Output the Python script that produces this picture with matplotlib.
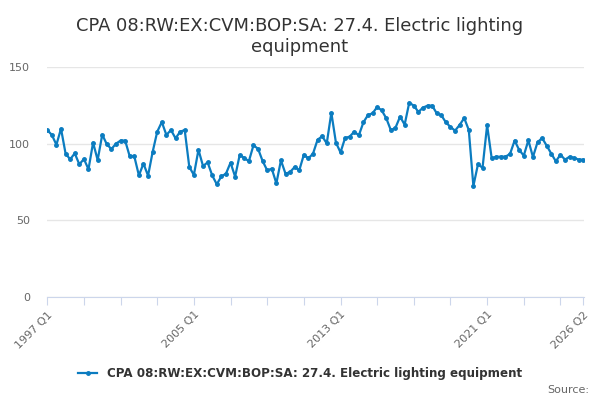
import matplotlib
matplotlib.use("Agg")
import matplotlib.pyplot as plt

# quarterly values 1997 Q1 .. 2026 Q2
werte = [
    108.9, 105.7, 99.3, 109.8, 93.5, 89.8, 93.7, 86.5, 90.0, 83.3,
    100.7, 89.3, 105.9, 99.6, 96.5, 100.0, 102.0, 102.0, 91.7, 91.7,
    79.3, 87.0, 79.1, 94.6, 107.8, 114.1, 105.7, 108.9, 103.5, 107.8,
    108.9, 84.8, 79.6, 96.0, 85.4, 87.8, 79.3, 73.5, 78.7, 80.4,
    87.6, 78.5, 92.6, 90.7, 88.5, 98.9, 96.7, 88.7, 82.6, 83.7,
    74.1, 89.1, 80.4, 81.5, 84.8, 82.6, 92.8, 90.4, 93.5, 102.6,
    104.8, 100.2, 120.2, 100.7, 94.3, 103.7, 104.6, 107.8, 105.4, 113.9,
    118.7, 119.8, 123.9, 121.7, 116.5, 108.7, 110.4, 117.6, 112.4, 126.7,
    124.8, 120.7, 123.5, 124.8, 124.8, 119.8, 118.5, 113.9, 110.9, 108.5,
    112.2, 116.7, 108.9, 72.4, 86.5, 84.3, 112.0, 90.4, 91.5, 91.5,
    91.5, 93.3, 102.0, 95.9, 92.2, 102.2, 91.3, 100.9, 103.7, 98.7,
    93.5, 88.5, 92.8, 89.6, 91.5, 90.7, 89.6, 89.6,
]
quartale = list(range(len(werte)))
tick_pos = list(range(0, 113, 8)) + [117]
tick_labels = {0: "1997 Q1", 32: "2005 Q1", 64: "2013 Q1", 96: "2021 Q1", 117: "2026 Q2"}
y_ticks = [0, 50, 100, 150]

titel = "CPA 08:RW:EX:CVM:BOP:SA: 27.4. Electric lighting equipment"
farbe = "#0b7cc0"

plt.rcParams["font.family"] = ["DejaVu Sans"]

fig = plt.figure(figsize=(6, 4), dpi=100)
ax = fig.add_axes([0.078, 0.2575, 0.895, 0.575])

ax.plot(quartale, werte, color=farbe, linewidth=1.6, marker="o",
        markersize=2.5, label=titel, zorder=3)

ax.set_xlim(-0.1, 117.1)
ax.set_ylim(0, 150)
ax.set_yticks(y_ticks)
ax.yaxis.grid(True, color="#e6e6e6", linewidth=1)
ax.set_axisbelow(True)
ax.tick_params(axis="y", length=0, labelsize=8, labelcolor="#666666", pad=12)

ax.set_xticks(tick_pos)
ax.set_xticklabels([tick_labels.get(p, "") for p in tick_pos],
                   rotation=45, ha="right", rotation_mode="anchor")
ax.tick_params(axis="x", length=6, color="#ccd6eb", labelsize=8,
               labelcolor="#666666", pad=3)

for s in ["top", "right", "left"]:
    ax.spines[s].set_visible(False)
ax.spines["bottom"].set_color("#ccd6eb")

fig.text(0.5, 0.957, "CPA 08:RW:EX:CVM:BOP:SA: 27.4. Electric lighting\nequipment",
         ha="center", va="top", fontsize=12.9, color="#333333", linespacing=1.2)

leg = fig.legend(loc="center", bbox_to_anchor=(0.5, 0.067), frameon=False,
                 handlelength=1.6, prop={"size": 8.6, "weight": "bold"})
for t in leg.get_texts():
    t.set_color("#333333")

fig.text(0.982, 0.025, "Source:", ha="right", va="center", fontsize=8, color="#666666")

fig.savefig("out.png", dpi=100)
